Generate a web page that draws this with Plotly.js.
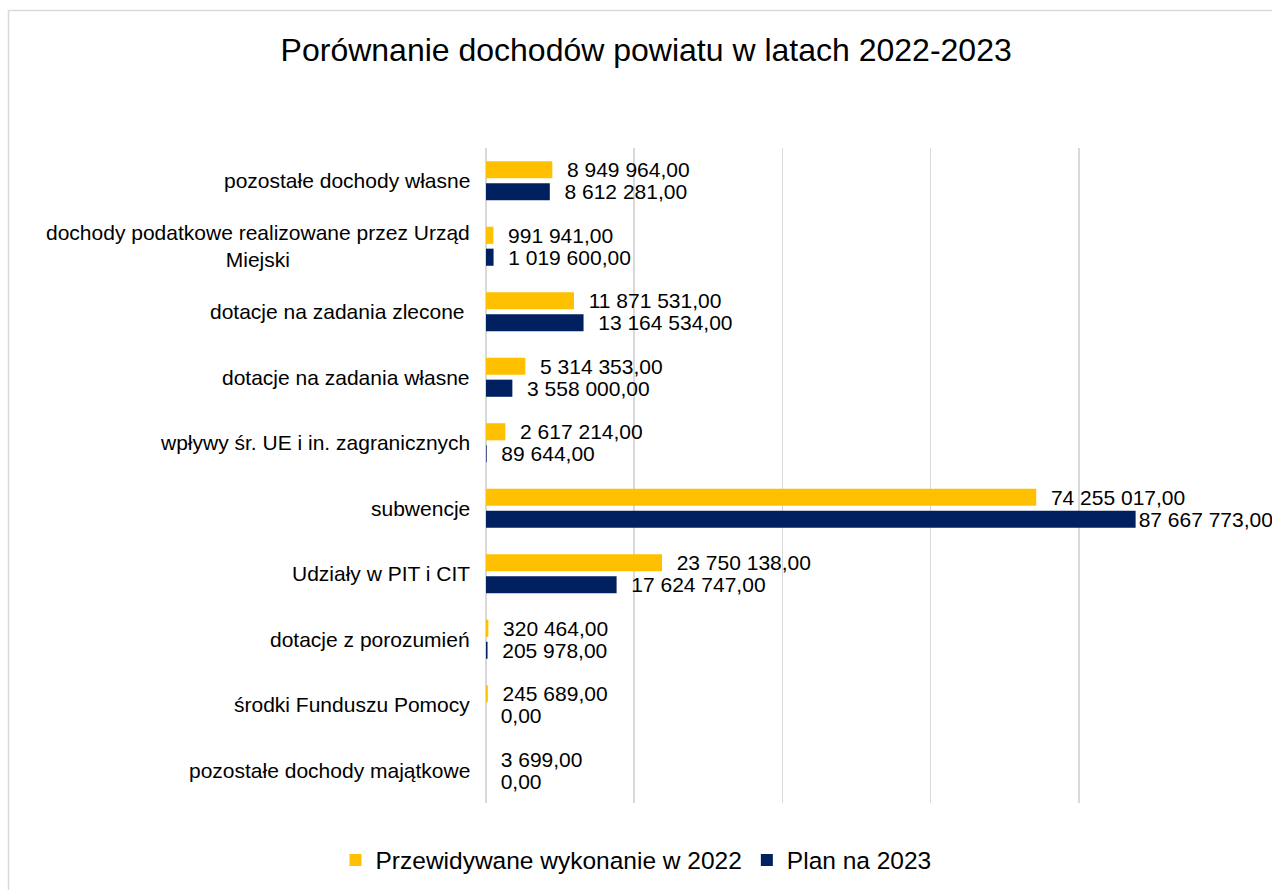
<!DOCTYPE html>
<html>
<head>
<meta charset="utf-8">
<script src="https://cdn.plot.ly/plotly-3.0.1.min.js"></script>
<style>
html, body { margin: 0; padding: 0; background: #fff; }
#chart { width: 1272px; height: 890px; }
</style>
</head>
<body>
<div id="chart"></div>
<script>
const categories = [
  "pozostałe dochody własne",
  "dochody podatkowe realizowane przez Urząd<br>Miejski",
  "dotacje na zadania zlecone ",
  "dotacje na zadania własne",
  "wpływy śr. UE i in. zagranicznych",
  "subwencje",
  "Udziały w PIT i CIT",
  "dotacje z porozumień",
  "środki Funduszu Pomocy",
  "pozostałe dochody majątkowe"
];
const series2022 = [8949964, 991941, 11871531, 5314353, 2617214, 74255017, 23750138, 320464, 245689, 3699];
const series2023 = [8612281, 1019600, 13164534, 3558000, 89644, 87667773, 17624747, 205978, 0, 0];
const seriesNames = ["Przewidywane wykonanie w 2022", "Plan na 2023"];

const XMAX = 100000000;
const FONT = "Liberation Sans, Arial, sans-serif";
const FS = 21;

function fmt(v) {
  const s = Math.round(v).toString().replace(/\B(?=(\d{3})+(?!\d))/g, " ");
  return s + ",00";
}
function labels(arr) {
  return arr.map(v => (v / XMAX > 0.8 ? "" : "\u00A0\u00A0") + fmt(v));
}

const common = {
  type: "bar",
  orientation: "h",
  y: categories,
  textposition: "outside",
  cliponaxis: false,
  constraintext: "none",
  textfont: { family: FONT, size: FS, color: "#000" },
  hoverinfo: "skip"
};

const traces = [
  Object.assign({}, common, {
    name: seriesNames[0], x: series2022, text: labels(series2022),
    marker: { color: "#FFC000" }
  }),
  Object.assign({}, common, {
    name: seriesNames[1], x: series2023, text: labels(series2023),
    marker: { color: "#002060" }
  })
];

const annotations = categories.map(c => ({
  xref: "paper", yref: "y", x: 0, y: c, xanchor: "right", yanchor: "middle",
  xshift: -14, text: c, showarrow: false, align: "center",
  font: { family: FONT, size: FS, color: "#000" }
}));

const layout = {
  width: 1272, height: 890,
  margin: { l: 486, r: 45, t: 148, b: 87 },
  paper_bgcolor: "#fff", plot_bgcolor: "#fff",
  font: { family: FONT, size: FS, color: "#000" },
  title: {
    text: "Porównanie dochodów powiatu w latach 2022-2023",
    font: { family: FONT, size: 32, color: "#000" },
    x: 0.508, xanchor: "center", y: 1 - 50 / 890, yanchor: "middle", yref: "container"
  },
  barmode: "group",
  bargap: 0.33,
  bargroupgap: 0.22,
  xaxis: {
    range: [0, XMAX], dtick: 20000000, tick0: 0,
    showticklabels: false, showgrid: true, gridcolor: "#d9d9d9", gridwidth: 1.5,
    zeroline: true, zerolinecolor: "#d9d9d9", zerolinewidth: 1.5,
    showline: false, ticks: "", fixedrange: true
  },
  yaxis: {
    type: "category", autorange: "reversed", showticklabels: false,
    showgrid: false, zeroline: false, showline: false, ticks: "", fixedrange: true
  },
  showlegend: true,
  legend: {
    orientation: "h", xref: "container", yref: "container",
    x: 0.5, xanchor: "center", y: 1 - 860 / 890, yanchor: "middle",
    font: { family: FONT, size: 24.5, color: "#000" },
    traceorder: "normal", itemwidth: 30
  },
  annotations: annotations,
  shapes: [{
    type: "rect", xref: "paper", yref: "paper", layer: "below",
    x0: (8.5 - 486) / 741, x1: (1290 - 486) / 741,
    y0: (803 - 900) / 655, y1: (803 - 10.5) / 655,
    line: { color: "#d9d9d9", width: 1.5 }, fillcolor: "rgba(0,0,0,0)"
  }]
};

Plotly.newPlot("chart", traces, layout, { displayModeBar: false, staticPlot: true });
</script>
</body>
</html>
